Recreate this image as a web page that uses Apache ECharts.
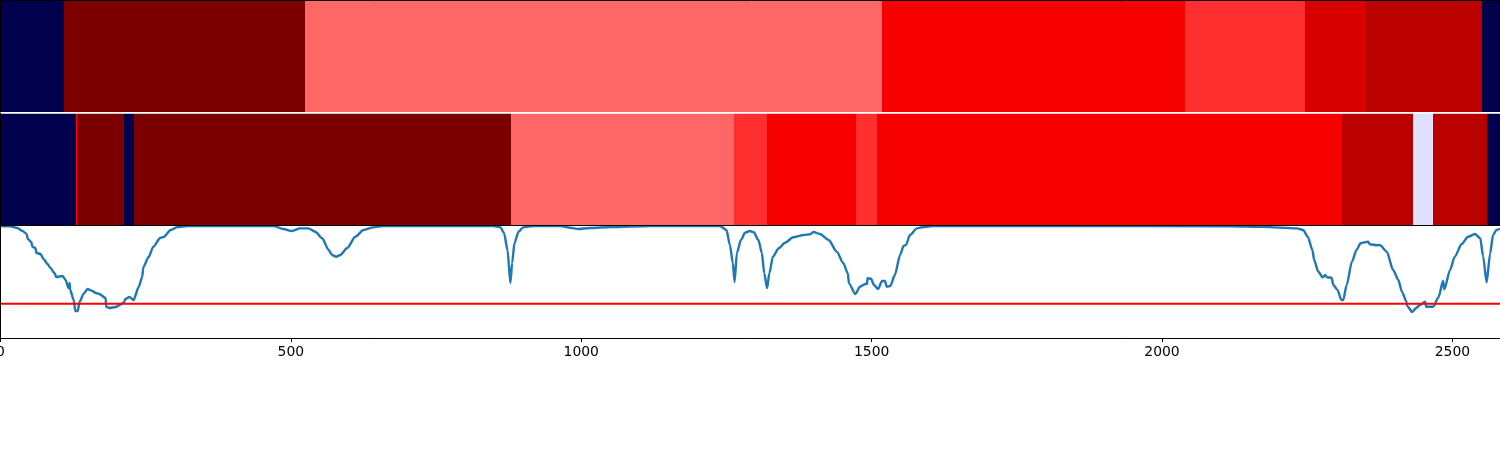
<!DOCTYPE html>
<html><head><meta charset="utf-8">
<style>html,body{margin:0;padding:0;background:#fff}#c{width:1500px;height:450px}</style>
<script src="https://cdn.jsdelivr.net/npm/echarts@6/dist/echarts.min.js"></script>
</head><body><div id="c"></div>
<script>
const xMax = 2582;
const xTicks = [0,500,1000,1500,2000,2500];
const threshold = 0.306;
const topEdges = [0,110,525,1518,2040,2246,2351,2551,2582];
const topColors = ['#00004c','#7c0000','#ff6666','#f60000','#ff2f2f','#d80000','#bb0000','#00004c'];
const midEdges = [0,130,132,213,230,879,1263,1320,1473,1510,2310,2432,2466,2560,2582];
const midColors = ['#00004c','#ff0000','#7c0000','#00004c','#7c0000','#ff6666','#ff2f2f','#f60000','#ff2f2f','#f60000','#bb0000','#e0e0ff','#bb0000','#00004c'];
const lineX = [0,17,29,38,45,47,53,55,60,62,69,74,81,86,93,96,107,112,117,119,120,126,129,133,136,143,150,158,164,170,181,182,188,198,212,215,222,229,238,244,246,255,263,275,281,293,305,322,470,487,502,516,530,542,554,565,571,578,585,597,611,625,642,659,849,861,867,873,878,881,885,892,900,917,964,981,995,1015,1050,1119,1239,1250,1256,1261,1264,1268,1275,1282,1290,1297,1305,1311,1315,1320,1324,1330,1340,1351,1365,1383,1394,1400,1411,1426,1440,1451,1459,1461,1472,1480,1489,1492,1493,1499,1504,1511,1518,1523,1526,1532,1540,1549,1555,1559,1566,1578,1589,1606,1807,2117,2174,2232,2243,2251,2259,2262,2269,2277,2281,2284,2292,2295,2302,2309,2312,2318,2327,2335,2342,2355,2358,2370,2375,2387,2398,2407,2413,2421,2422,2431,2437,2444,2453,2455,2467,2476,2484,2486,2496,2504,2516,2527,2539,2548,2553,2559,2565,2570,2576,2582];
const lineY = [1,.997,.982,.955,.929,.884,.857,.813,.804,.759,.75,.705,.661,.625,.58,.545,.554,.518,.446,.491,.429,.339,.241,.241,.321,.393,.4375,.42,.402,.393,.357,.277,.268,.277,.3125,.348,.366,.339,.455,.545,.634,.723,.813,.893,.902,.964,.991,1,1,.973,.955,.979,.979,.949,.89,.786,.741,.726,.741,.804,.904,.964,.988,1,1,.988,.9375,.786,.491,.67,.848,.949,.988,1,1,.985,.973,.982,.991,1,1,.964,.83,.67,.5,.759,.875,.94,.955,.944,.875,.759,.58,.446,.58,.726,.801,.851,.899,.92,.926,.946,.929,.875,.771,.67,.578,.488,.393,.458,.482,.482,.533,.529,.473,.4375,.509,.509,.458,.464,.5625,.741,.821,.83,.92,.979,.991,1,1,.998,.992,.979,.964,.904,.786,.696,.592,.542,.5625,.542,.538,.473,.429,.339,.339,.473,.681,.786,.846,.86,.837,.828,.83,.771,.607,.518,.413,.324,.286,.232,.265,.295,.324,.279,.279,.363,.509,.435,.607,.726,.839,.904,.929,.89,.726,.497,.756,.92,.964,.975];

function bands(edges, colors){
  return colors.map((c,i)=>({value:[edges[i],edges[i+1]],itemStyle:{color:c}}));
}
function renderBand(params, api){
  const p0 = api.coord([api.value(0),1]);
  const p1 = api.coord([api.value(1),0]);
  const x0 = Math.round(p0[0]), x1 = Math.round(p1[0]);
  return {type:'rect',shape:{x:x0,y:p0[1],width:x1-x0,height:p1[1]-p0[1]},style:{fill:api.visual('color')}};
}
const grids = [
  {left:0.5,width:1499.5,top:0.5,height:111.5},
  {left:0.5,width:1499.5,top:113.5,height:112},
  {left:0.5,width:1499.5,top:226,height:112}
].map(g=>Object.assign(g,{show:false,outerBoundsMode:'none',containLabel:false}));
const xBase = {type:'value',min:0,max:xMax,interval:500,splitLine:{show:false},z:10};
const black = {show:true,onZero:false,lineStyle:{color:'#000',width:1}};
const noTicks = {axisTick:{show:false},axisLabel:{show:false}};
const chart = echarts.init(document.getElementById('c'),null,{renderer:'canvas'});
chart.setOption({
  animation:false,
  backgroundColor:'#fff',
  grid:grids,
  xAxis:[
    Object.assign({gridIndex:0,position:'top',axisLine:black},xBase,noTicks),
    Object.assign({gridIndex:1,position:'bottom',axisLine:black},xBase,noTicks),
    Object.assign({gridIndex:2,position:'bottom'},xBase,{
      axisLine:black,
      axisTick:{show:true,length:4,lineStyle:{color:'#000',width:1}},
      axisLabel:{show:true,color:'#000',fontFamily:'DejaVu Sans',fontSize:13.9,margin:7,
        showMinLabel:true,showMaxLabel:false,hideOverlap:false,
        formatter:v=>xTicks.includes(v)?String(v):''}
    })
  ],
  yAxis:[0,1,2].map(i=>Object.assign({type:'value',gridIndex:i,min:0,max:1,splitLine:{show:false},z:10,axisLine:black},noTicks)),
  series:[
    {type:'custom',xAxisIndex:0,yAxisIndex:0,renderItem:renderBand,encode:{x:[0,1]},data:bands(topEdges,topColors),silent:true,z:1,clip:true},
    {type:'custom',xAxisIndex:1,yAxisIndex:1,renderItem:renderBand,encode:{x:[0,1]},data:bands(midEdges,midColors),silent:true,z:1,clip:true},
    {type:'line',xAxisIndex:2,yAxisIndex:2,data:lineX.map((x,i)=>[x,lineY[i]]),showSymbol:false,symbol:'none',smooth:0.25,smoothMonotone:'x',lineStyle:{color:'#1f77b4',width:2.4},z:2},
    {type:'line',xAxisIndex:2,yAxisIndex:2,data:[[0,threshold],[xMax,threshold]],showSymbol:false,symbol:'none',lineStyle:{color:'#ff0000',width:2},z:3}
  ]
});
</script></body></html>
